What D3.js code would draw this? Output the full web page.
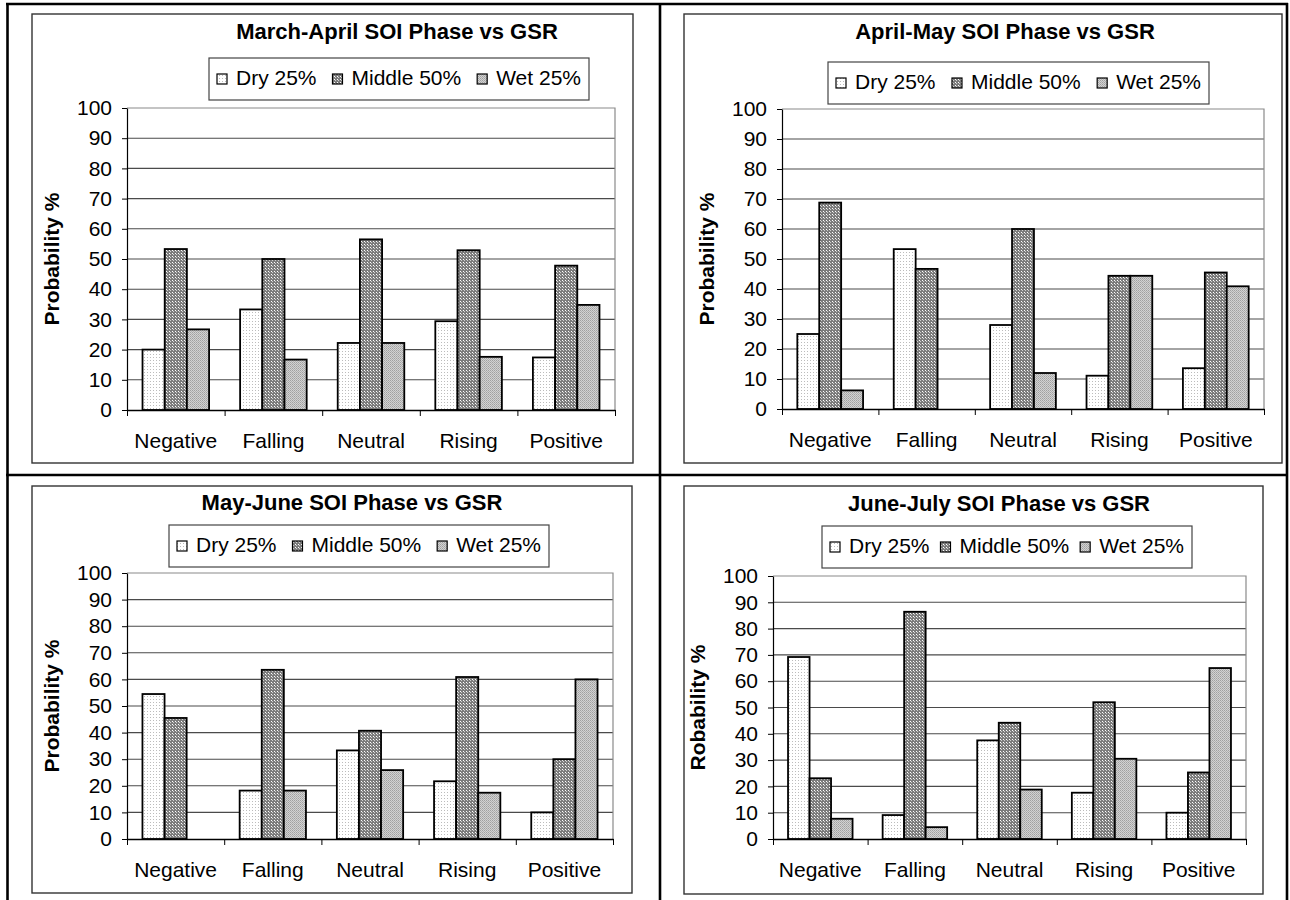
<!DOCTYPE html>
<html>
<head>
<meta charset="utf-8">
<script src="https://cdn.jsdelivr.net/npm/d3@7"></script>
<style>
  html, body { margin: 0; padding: 0; background: #fff; }
  svg { display: block; }
  text { font-family: "Liberation Sans", Arial, sans-serif; fill: #000; }
</style>
</head>
<body>
<svg id="chart" width="1290" height="900"></svg>
<script>
// ---------------- DATA ----------------
const categories = ["Negative", "Falling", "Neutral", "Rising", "Positive"];
const seriesNames = ["Dry 25%", "Middle 50%", "Wet 25%"];
const yTicks = [0, 10, 20, 30, 40, 50, 60, 70, 80, 90, 100];
const titles = [
  "March-April SOI Phase vs GSR",
  "April-May SOI Phase vs GSR",
  "May-June SOI Phase vs GSR",
  "June-July SOI Phase vs GSR"
];
const yTitles = ["Probability %", "Probability %", "Probability %", "Robability %"];

// March-April
const marAprDry    = [20.0, 33.3, 22.2, 29.4, 17.4];
const marAprMiddle = [53.3, 50.0, 56.5, 52.9, 47.8];
const marAprWet    = [26.7, 16.7, 22.2, 17.6, 34.8];
// April-May
const aprMayDry    = [25.0, 53.3, 28.0, 11.1, 13.6];
const aprMayMiddle = [68.8, 46.7, 60.0, 44.4, 45.5];
const aprMayWet    = [6.2, 0, 12.0, 44.4, 40.9];
// May-June
const mayJunDry    = [54.5, 18.2, 33.3, 21.7, 10.0];
const mayJunMiddle = [45.5, 63.6, 40.7, 60.9, 30.0];
const mayJunWet    = [0, 18.2, 25.9, 17.4, 60.0];
// June-July
const junJulDry    = [69.2, 9.1, 37.5, 17.6, 10.0];
const junJulMiddle = [23.1, 86.4, 44.2, 52.0, 25.3];
const junJulWet    = [7.7, 4.5, 18.8, 30.5, 65.0];

const panelSeries = [
  [marAprDry, marAprMiddle, marAprWet],
  [aprMayDry, aprMayMiddle, aprMayWet],
  [mayJunDry, mayJunMiddle, mayJunWet],
  [junJulDry, junJulMiddle, junJulWet]
];

// ---------------- LAYOUT ----------------
const layout = [
  {box: [32, 14, 633, 463],  plot: [127, 108, 615, 410], titleX: 397,  titleY: 39,  legend: [209, 58, 380, 42],  labelY: 448},
  {box: [684, 14, 1282, 463], plot: [782, 109, 1264, 409], titleX: 1005, titleY: 39,  legend: [828, 62, 381, 42],  labelY: 447},
  {box: [32, 486, 632, 893], plot: [127, 573, 613, 839], titleX: 352,  titleY: 510, legend: [169, 525, 380, 42], labelY: 877},
  {box: [684, 486, 1263, 894], plot: [773, 576, 1246, 839], titleX: 999, titleY: 511, legend: [822, 526, 370, 42], labelY: 877}
];

const svg = d3.select("#chart");

// ---------------- PATTERNS ----------------
const defs = svg.append("defs");
function pattern(id, w, h, bg, dots) {
  const p = defs.append("pattern").attr("id", id).attr("patternUnits", "userSpaceOnUse")
    .attr("width", w).attr("height", h);
  p.append("rect").attr("width", w).attr("height", h).attr("fill", bg);
  dots.forEach(d => p.append("rect").attr("x", d[0]).attr("y", d[1]).attr("width", 1).attr("height", 1).attr("fill", d[2]));
}
pattern("pDry", 3, 3, "#ffffff", [[0, 0, "#bcbcbc"]]);
pattern("pMid", 3, 3, "#7c7c7c", [[1, 1, "#ffffff"], [2, 2, "#cfcfcf"]]);
pattern("pWet", 2, 2, "#d2d2d2", [[0, 0, "#a0a0a0"], [1, 1, "#b0b0b0"]]);
const fills = ["url(#pDry)", "url(#pMid)", "url(#pWet)"];

// ---------------- TABLE FRAME ----------------
const frame = svg.append("g").attr("stroke", "#000").attr("stroke-width", 2.6);
frame.append("line").attr("x1", 6).attr("x2", 1288).attr("y1", 4).attr("y2", 4);
frame.append("line").attr("x1", 7.5).attr("x2", 7.5).attr("y1", 3).attr("y2", 900);
frame.append("line").attr("x1", 1287).attr("x2", 1287).attr("y1", 3).attr("y2", 900);
frame.append("line").attr("x1", 660).attr("x2", 660).attr("y1", 3).attr("y2", 900);
frame.append("line").attr("x1", 6).attr("x2", 1288).attr("y1", 475).attr("y2", 475);

// ---------------- PANELS ----------------
layout.forEach((L, i) => {
  const g = svg.append("g");
  const [bx0, by0, bx1, by1] = L.box;
  g.append("rect").attr("x", bx0).attr("y", by0).attr("width", bx1 - bx0).attr("height", by1 - by0)
    .attr("fill", "#fff").attr("stroke", "#333").attr("stroke-width", 1.4);

  const [px0, py0, px1, py1] = L.plot;
  const y = d3.scaleLinear().domain([0, 100]).range([py1, py0]);
  const x = d3.scaleBand().domain(categories).range([px0, px1]).paddingInner(0).paddingOuter(0);
  const bw = x.bandwidth();
  const inner = d3.scaleBand().domain(seriesNames)
    .range([bw * 0.159, bw * 0.841]).paddingInner(0).paddingOuter(0);

  // gridlines
  g.append("g").selectAll("line").data(yTicks.filter(t => t > 0 && t < 100)).join("line")
    .attr("x1", px0).attr("x2", px1).attr("y1", d => y(d)).attr("y2", d => y(d))
    .attr("stroke", "#4a4a4a").attr("stroke-width", 1.1);
  // plot frame top & right
  g.append("path").attr("d", `M${px0},${y(100)}H${px1}V${y(0)}`)
    .attr("fill", "none").attr("stroke", "#8a8a8a").attr("stroke-width", 1.2);

  // bars
  const series = panelSeries[i];
  seriesNames.forEach((s, si) => {
    g.append("g").selectAll("rect")
      .data(categories.map((c, ci) => ({c, v: series[si][ci]})).filter(d => d.v > 0))
      .join("rect")
      .attr("x", d => x(d.c) + inner(s))
      .attr("y", d => y(d.v))
      .attr("width", inner.bandwidth())
      .attr("height", d => y(0) - y(d.v))
      .attr("fill", fills[si])
      .attr("stroke", "#000").attr("stroke-width", 1.8);
  });

  // y axis
  const ya = g.append("g").attr("transform", `translate(${px0},0)`)
    .call(d3.axisLeft(y).tickValues(yTicks).tickSize(5).tickPadding(10).tickSizeOuter(0));
  ya.select(".domain").attr("stroke", "#000").attr("stroke-width", 1.2);
  ya.selectAll(".tick line").attr("stroke", "#000");
  ya.selectAll(".tick text").style("font-size", "21px").style("font-family", "'Liberation Sans', Arial, sans-serif").attr("fill", "#000");

  // x axis with boundary ticks
  const xb = d3.scaleLinear().domain([0, categories.length]).range([px0, px1]);
  const xa = g.append("g").attr("transform", `translate(0,${py1})`)
    .call(d3.axisBottom(xb).ticks(categories.length).tickFormat("").tickSize(6).tickSizeOuter(0));
  xa.select(".domain").attr("stroke", "#000").attr("stroke-width", 1.4);
  xa.selectAll(".tick line").attr("stroke", "#000");

  // x labels
  g.append("g").selectAll("text").data(categories).join("text")
    .attr("x", d => x(d) + bw / 2).attr("y", L.labelY)
    .attr("text-anchor", "middle").style("font-size", "21px").text(d => d);

  // y title
  g.append("text")
    .attr("transform", `translate(${px0 - 75},${(py0 + py1) / 2}) rotate(-90)`)
    .attr("text-anchor", "middle").attr("dy", "0.35em")
    .style("font-size", "21px").style("font-weight", "bold").text(yTitles[i]);

  // chart title
  g.append("text").attr("x", L.titleX).attr("y", L.titleY).attr("text-anchor", "middle")
    .style("font-size", "22px").style("font-weight", "bold").text(titles[i]);

  // legend
  const [lx, ly, lw, lh] = L.legend;
  const lg = g.append("g");
  lg.append("rect").attr("x", lx).attr("y", ly).attr("width", lw).attr("height", lh)
    .attr("fill", "#fff").attr("stroke", "#444").attr("stroke-width", 1.2);
  const baseline = ly + 27;
  const texts = seriesNames.map(s => lg.append("text").attr("y", baseline).style("font-size", "21px").text(s));
  const tw = texts.map(t => t.node().getComputedTextLength());
  const sym = 10, symGap = 9, pad = 8;
  const used = tw.reduce((a, b) => a + b, 0) + seriesNames.length * (sym + symGap);
  const gap = (lw - 2 * pad - used) / (seriesNames.length - 1);
  let cx = lx + pad;
  seriesNames.forEach((s, si) => {
    lg.append("rect").attr("x", cx).attr("y", baseline - 11).attr("width", sym).attr("height", sym)
      .attr("fill", fills[si]).attr("stroke", "#000").attr("stroke-width", 1.2);
    texts[si].attr("x", cx + sym + symGap);
    cx += sym + symGap + tw[si] + gap;
  });
});
</script>
</body>
</html>
